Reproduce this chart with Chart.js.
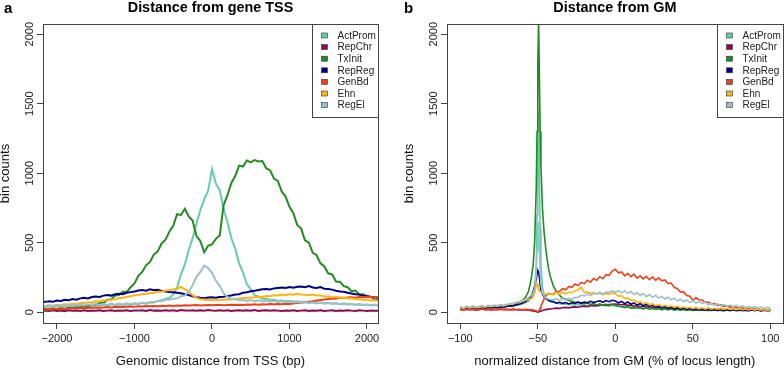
<!DOCTYPE html>
<html><head><meta charset="utf-8">
<script src="https://cdn.jsdelivr.net/npm/chart.js@4/dist/chart.umd.min.js"></script>
<style>
html,body{margin:0;padding:0;background:#fff;}
#wrap{position:relative;width:784px;height:369px;overflow:hidden;}
canvas{position:absolute;top:0;display:block;}
</style></head><body>
<div id="wrap"><canvas id="a" width="392" height="369" style="left:0"></canvas><canvas id="b" width="392" height="369" style="left:392px"></canvas></div>
<script>
// ---------- shared ----------
const seriesNames = ['ActProm','RepChr','TxInit','RepReg','GenBd','Ehn','RegEl'];
const countTicks = [0,500,1000,1500,2000];

// ---------- panel a: distance from gene TSS (bp) ----------
const tssXTicks = [-2000,-1000,0,1000,2000];
const tssBins = [-2200,-2150,-2100,-2050,-2000,-1950,-1900,-1850,-1800,-1750,-1700,
-1650,-1600,-1550,-1500,-1450,-1400,-1350,-1300,-1250,-1200,
-1150,-1100,-1050,-1000,-950,-900,-850,-800,-750,-700,
-650,-600,-550,-500,-450,-400,-350,-300,-250,-200,
-150,-100,-50,0,50,100,150,200,250,300,
350,400,450,500,550,600,650,700,750,800,
850,900,950,1000,1050,1100,1150,1200,1250,1300,
1350,1400,1450,1500,1550,1600,1650,1700,1750,1800,
1850,1900,1950,2000,2050,2100,2150,2200];
const tssActProm = [36, 38,44,34,46,38,47,37,49,41,50, 42,52,44,54,46,56,48,57,49,59, 51,60,53,62,60,68,62,72,72,82,
 86,97,102,128,176,275,345,446,533,638, 735,812,872,1030,925,878,742,648,532,458,
 352,288,202,166,122,114,96,99,88,91, 82,85,80,82,77,79,74,76,71,73, 69,70,65,67,63,64,60,61,57,58,
 54,56,52,53,50,51,48, 47];
const tssRepChr = [11,12,9,14,10,13,8,15,11,12,9, 14,10,13,11,15,9,12,14,10,13, 11,15,9,13,12,14,10,16,12,13,
 11,15,12,14,10,16,13,12,15,11, 14,12,16,13,11,15,12,14,10,13, 15,11,14,12,16,10,13,15,11,14,
 12,9,13,11,15,10,12,14,9,13, 11,15,10,12,14,9,13,11,15,12, 10,14,12,9,13,11,12,13];
const tssTxInit = [18, 22,17,26,21,29,24,32,30,38,33, 46,42,55,52,68,66,88,94,120,124, 148,146,180,208,262,290,338,362,415,438,
 495,522,580,622,705,700,745,690,660,548, 512,432,478,488,528,552,770,842,930,980,
 1055,1048,1092,1078,1095,1084,1088,1036,1020,962, 945,868,832,758,712,628,602,518,500,428,
 410,352,330,280,272,222,220,188,180,152, 156,128,130,112,110,90,92, 80];
const tssRepReg = [72,75,80,76,85,82,90,86,95,91,100, 104,100,110,114,110,120,125,120,130,134, 130,140,145,150,156,160,155,166,158,162,
 154,150,146,144,140,137,130,124,115,108, 104,101,106,108,104,110,112,118,121,128,
 130,140,144,151,155,160,166,168,164,172, 175,178,174,181,177,183,186,180,189,178,
 174,181,170,168,163,155,150,148,140,135, 130,127,120,118,112,108,105,102];
const tssGenBd = [20,22,25,22,25,28,25,28,30,28,30, 32,30,33,35,32,35,38,35,38,40, 38,40,42,40,43,42,45,43,46,44,
 47,45,48,46,48,47,50,48,50,52, 49,51,53,50,52,54,51,53,55,52, 55,53,56,54,57,55,58,56,59,57,
 60,58,62,60,64,66,68,72,75,80, 84,88,92,95,98,100,104,102,106,108, 105,110,108,112,110,108,106,104];
const tssEhn = [43,45,49,47,53,51,58,56,62,60,67, 66,73,71,79,78,86,84,92,94,102, 104,112,115,122,125,132,131,140,139,148,
 147,156,158,166,170,182,165,150,122,104, 94,92,88,89,86,91,90,94,92,97,
 99,103,101,107,106,112,110,117,116,122, 121,128,124,130,126,133,128,127,122,128,
 120,121,113,114,108,111,104,106,99,101, 94,96,89,91,85,86,80,78];
const tssRegEl = [44, 46,50,43,52,45,54,46,55,48,57, 49,58,51,59,52,60,53,62,54,63, 56,64,58,66,60,68,63,72,70,80,
 80,90,90,98,100,115,120,150,195,255, 290,336,318,284,228,190,136,112,94,93,
 86,89,82,88,80,86,78,84,76,82, 74,80,72,78,70,76,68,74,66,72, 64,70,62,68,60,66,58,64,56,62,
 54,60,52,58,50,56,48, 50];

// ---------- panel b: normalized distance from GM (% of locus length) ----------
const gmXTicks = [-100,-50,0,50,100];
const gmBins = [-100,-98,-96,-94,-92,-90,-88,-86,-84,-82,-80,-78,-76,-74,-72,-70,-68,-66,-64,-62,-60,-58,
 -56,-55,-54,-53,-52,-51,-50.5,-50,-49.5,-49,-48.5,-48,-47,-46,-45,-44,-43,-42,
 -40,-38,-36,-34,-32,-30,-28,-26,-24,-22, -20,-18,-16,-14,-12,-10,-8,-6,-4,-2,
 0,2,4,6,8,10,12,14,16,18, 20,22,24,26,28,30,32,34,36,38, 40,42,44,46,48,50,52,54,56,58,
 60,62,64,66,68,70,72,74,76,78, 80,82,84,86,88,90,92,94,96,98, 100];
const gmActProm = [30,24,33,27,35,29,26,36,31,38,33,40,36,42,38,45,48,46,52,55,60,68,
 80,95,110,130,170,350,700,1200,1450,1000,600,350,180,130,105,92,85,78,
 70,65,62,58,60,55,58,52,56,50, 54,48,52,46,50,47,52,48,45,50, 46,42,40,38,40,35,37,33,35,30,
 33,28,31,27,29,25,28,24,27,23, 26,22,25,21,24,22,20,23,21,24, 20,22,19,23,21,18,22,20,19,21,
 18,20,17,21,19,18,20,17,19,18, 20];
const gmRepChr = [20,17,22,18,21,16,19,23,18,20,17,21,19,22,18,20,17,21,18,16,19,17,
 15,14,12,10,8,5,3,2,3,5,8,10,13,16,19,21,23,24,
 27,30,28,33,35,32,37,39,36,42, 44,41,47,49,46,52,54,50,56,58, 60,57,54,55,50,50,46,45,42,43,
 39,38,36,35,33,33,31,30,29,28, 28,26,27,25,26,24,25,23,24,22, 23,21,22,20,21,19,20,18,19,17,
 18,16,17,15,16,15,16,14,15,14, 14];
const gmTxInit = [28,22,30,25,32,27,24,33,29,35,31,38,34,41,37,44,48,52,60,72,85,108,
 150,200,260,340,520,900,1300,1800,2100,1700,1300,1050,750,580,470,380,310,260,
 190,148,122,100,96,84,80,70,74,62, 64,68,56,62,53,60,50,58,48,56, 50,43,42,34,40,30,32,33,29,24,
 31,22,27,20,26,18,24,17,23,16, 21,15,20,13,19,14,15,16,14,17, 12,17,13,18,14,12,17,13,18,14,
 13,17,12,16,18,13,17,12,16,13, 15];
const gmRepReg = [25,20,28,22,30,24,27,33,28,35,31,38,34,40,36,43,47,45,52,58,66,78,
 92,105,125,150,190,240,280,300,290,250,200,160,130,110,100,92,86,80,
 78,66,72,64,70,60,68,64,73,66, 74,68,79,70,77,83,72,84,76,86, 82,68,78,62,74,58,68,52,62,48,
 56,42,50,38,46,33,41,28,37,25, 33,23,30,20,28,17,26,16,24,14, 23,14,21,12,20,12,19,11,18,12,
 19,11,17,10,18,12,17,10,16,12, 14];
const gmGenBd = [20,16,22,18,24,17,21,25,19,23,18,22,20,26,21,24,19,23,20,22,18,21,
 19,17,18,16,14,10,7,6,8,14,28,45,70,95,115,130,135,130,
 130,150,150,170,162,186,180,204,192,214, 206,230,216,244,230,256,242,270,266,296,
 310,284,290,262,280,256,274,246,262,240, 258,234,254,230,248,226,232,206,210,178,
 172,146,148,120,116,86,104,90,88,72, 74,60,62,50,53,43,46,37,41,33, 36,28,32,24,28,21,25,18,23,16, 20];
const gmEhn = [35,28,38,31,40,33,37,42,36,44,40,47,43,50,46,54,58,62,68,74,80,86,
 90,95,100,110,140,190,205,185,165,155,150,145,140,135,132,130,128,132,
 126,142,130,144,132,146,141,154,161,182, 141,146,135,142,132,138,126,136,128,138,
 134,116,120,100,104,86,90,72,78,62, 68,54,60,48,55,44,50,40,47,36, 43,32,39,29,36,27,34,25,32,23,
 31,22,29,22,28,21,27,20,26,19, 25,18,24,17,23,16,22,15,21,14, 19];
const gmRegEl = [40,32,44,36,46,38,42,48,40,50,45,52,48,55,50,58,62,65,72,78,85,95,
 105,115,125,140,170,280,450,600,650,450,300,200,140,115,105,98,95,92,
 90,98,84,99,88,102,92,108,106,122, 118,132,120,136,132,144,131,146,142,154,
 144,156,140,154,136,149,128,142,122,134, 114,128,108,122,102,114,96,108,90,102,
 82,94,76,88,72,82,66,78,62,72, 54,64,50,60,46,56,43,52,40,49, 37,46,34,42,32,40,30,38,28,36, 30];

// ---------- styling ----------
const seriesColors = ['#66CDAA','#8B0A50','#228B22','#000080','#E8431A','#FFB414','#9AC0CD'];
const FONT = '"Liberation Sans", Arial, Helvetica, sans-serif';
Chart.defaults.font.family = FONT;

const fmt = v => v < 0 ? '\u2212' + Math.abs(v) : String(v);

const decor = {
  id: 'decor',
  afterDraw(chart, args, o) {
    const ctx = chart.ctx, ca = chart.chartArea;
    ctx.save();
    const L0 = Math.round(ca.left) + 0.5, T0 = Math.round(ca.top) + 0.5;
    const W0 = Math.round(ca.right) - Math.round(ca.left), H0 = Math.round(ca.bottom) - Math.round(ca.top);
    // legend
    const lw = 66, lh = 93;
    const lx = Math.round(ca.right) - lw + 0.5, ly = T0;
    ctx.fillStyle = '#fff';
    ctx.fillRect(lx, ly, lw, lh);
    ctx.strokeStyle = '#444'; ctx.lineWidth = 1;
    ctx.strokeRect(lx, ly, lw, lh);
    ctx.font = '10px ' + FONT;
    ctx.textAlign = 'left'; ctx.textBaseline = 'middle';
    chart.data.datasets.forEach((ds, i) => {
      const cy = ly + 11 + i * 11.6;
      ctx.fillStyle = ds.borderColor;
      ctx.fillRect(lx + 9, cy - 2.5, 6, 5);
      ctx.strokeStyle = '#333'; ctx.lineWidth = 0.6;
      ctx.strokeRect(lx + 9, cy - 2.5, 6, 5);
      ctx.fillStyle = '#222';
      ctx.fillText(ds.label, lx + 25, cy + 0.5);
    });
    // box
    ctx.strokeStyle = '#444'; ctx.lineWidth = 1;
    ctx.strokeRect(L0, T0, W0, H0);
    // title + panel letter
    ctx.fillStyle = '#000';
    ctx.textBaseline = 'alphabetic';
    ctx.textAlign = 'center';
    ctx.font = 'bold 14.4px ' + FONT;
    ctx.fillText(o.title, (ca.left + ca.right) / 2, 12);
    ctx.textAlign = 'left';
    ctx.font = 'bold 15px ' + FONT;
    ctx.fillText(o.letter, o.letterX, 12.5);
    ctx.restore();
  }
};

function makeChart(id, bins, vals, cfg) {
  const datasets = seriesNames.map((name, i) => ({
    label: name,
    data: bins.map((x, j) => ({x: x, y: vals[i][j]})),
    borderColor: seriesColors[i],
    backgroundColor: seriesColors[i],
    borderWidth: cfg.lw,
    pointRadius: 0,
    tension: 0,
    fill: false,
    order: 6 - i
  }));
  const grid = {drawOnChartArea: false, drawTicks: true, tickLength: 6, color: '#444', tickColor: '#444'};
  return new Chart(document.getElementById(id), {
    type: 'line',
    data: {datasets},
    options: {
      responsive: false, animation: false, devicePixelRatio: 1,
      layout: {padding: cfg.pad},
      plugins: {legend: {display: false}, tooltip: {enabled: false},
        decor: {title: cfg.title, letter: cfg.letter, letterX: cfg.letterX}},
      scales: {
        x: {
          type: 'linear', min: cfg.xmin, max: cfg.xmax,
          afterBuildTicks: s => { s.ticks = cfg.xticks.map(v => ({value: v})); },
          afterFit: s => { s.height = 46; },
          ticks: {autoSkip: false, minRotation: 0, maxRotation: 0, padding: 3, color: '#222',
                  font: {size: 11}, callback: v => fmt(v)},
          grid: grid, border: {display: false},
          title: {display: true, text: cfg.xtitle, color: '#111', font: {size: 13}, padding: {top: 0, bottom: 0}}
        },
        y: {
          type: 'linear', min: -77, max: 2073,
          afterBuildTicks: s => { s.ticks = countTicks.map(v => ({value: v})); },
          afterFit: s => { s.width = 43; },
          ticks: {autoSkip: false, minRotation: 90, maxRotation: 90, crossAlign: 'center', padding: -5,
                  color: '#222', font: {size: 11}, callback: v => fmt(v)},
          grid: grid, border: {display: false},
          title: {display: true, text: 'bin counts', color: '#111', font: {size: 13, lineHeight: 1}, padding: {top: -1, bottom: 0}}
        }
      }
    },
    plugins: [decor]
  });
}

makeChart('a', tssBins,
  [tssActProm, tssRepChr, tssTxInit, tssRepReg, tssGenBd, tssEhn, tssRegEl],
  {lw: 2, pad: {left: 0, right: 14, top: 24, bottom: 0}, xmin: -2180, xmax: 2142, xticks: tssXTicks,
   xtitle: 'Genomic distance from TSS (bp)', title: 'Distance from gene TSS', letter: 'a', letterX: 4});
makeChart('b', gmBins,
  [gmActProm, gmRepChr, gmTxInit, gmRepReg, gmGenBd, gmEhn, gmRegEl],
  {lw: 1.6, pad: {left: 12, right: 1.3, top: 24, bottom: 0}, xmin: -108.6, xmax: 108, xticks: gmXTicks,
   xtitle: 'normalized distance from GM (% of locus length)', title: 'Distance from GM', letter: 'b', letterX: 12});
</script>
</body></html>
